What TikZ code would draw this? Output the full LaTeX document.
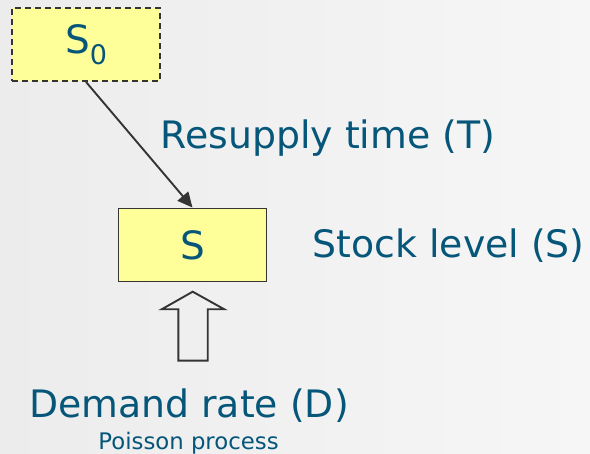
\documentclass[tikz,border=0pt]{standalone}
\usepackage{fontspec}
\setmainfont{DejaVu Sans}
\usetikzlibrary{arrows.meta}
\definecolor{labelblue}{RGB}{6,86,122}
\definecolor{boxfill}{RGB}{255,255,153}
\definecolor{edgegray}{RGB}{52,52,52}
\begin{document}
\begin{tikzpicture}[x=1pt,y=-1pt,
  box/.style={draw=edgegray,line width=1.9pt,fill=boxfill,minimum width=148pt,minimum height=73pt,inner sep=0pt,text=labelblue,font=\fontsize{39}{40}\selectfont},
  caption/.style={inner sep=0pt,text=labelblue,font=\fontsize{37.8}{40}\selectfont},
  smallcaption/.style={inner sep=0pt,text=labelblue,font=\fontsize{22.8}{25}\selectfont},
  link/.style={draw=edgegray,line width=1.9pt,-{Triangle[length=15pt,width=14pt]}},
  blockarrow/.style={draw=edgegray,line width=1.9pt,line join=miter}]
  % background
  \shade[left color={rgb,255:red,236;green,236;blue,236},right color={rgb,255:red,246;green,246;blue,246}] (0,0) rectangle (590,454);
  \useasboundingbox (0,0) rectangle (590,454);

  % boxes
  \node[box,dashed,dash pattern=on 6pt off 4pt] (s0) at (86,44.5) {S\raisebox{-11pt}{\fontsize{27}{27}\selectfont 0}};
  \node[box] (s) at (192.5,245) {S};

  % resupply link
  \draw[link] (s0.south) -- (s.north);

  % demand block arrow
  \coordinate (tip) at (192.7,291.7);
  \draw[blockarrow] (tip) -- ++(31.6,17.6) -- ++(-16.6,0) -- ++(0,51.4) -- ++(-29.4,0) -- ++(0,-51.4) -- ++(-16.6,0) -- cycle;

  % labels
  \node[caption,anchor=base west] (resupply) at (160.5,149) {Resupply time (T)};
  \node[caption,anchor=base west] (stock) at (312.5,258) {Stock level (S)};
  \node[caption,anchor=base] (demand) at (189,418) {Demand rate (D)};
  \node[smallcaption,anchor=base] (poisson) at (188.5,450) {Poisson process};
\end{tikzpicture}
\end{document}
